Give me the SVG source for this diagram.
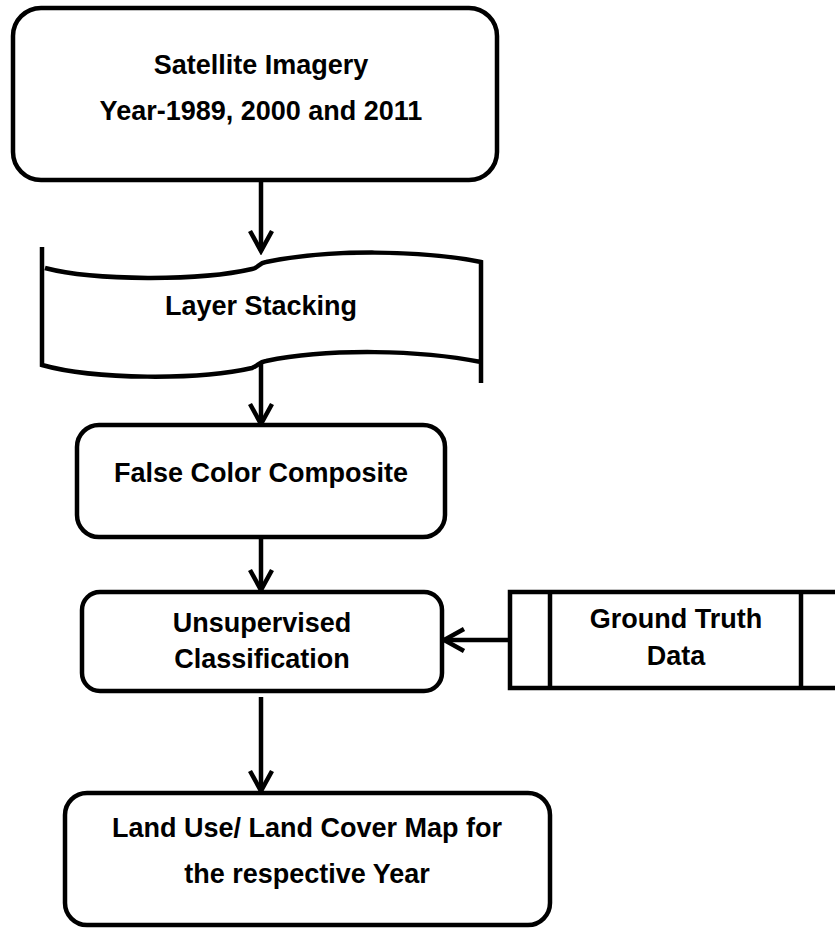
<svg xmlns="http://www.w3.org/2000/svg" width="835" height="928" viewBox="0 0 835 928">
  <style>
    .box { fill: #fff; stroke: #000; stroke-width: 4.5; }
    .edge { fill: none; stroke: #000; stroke-width: 4.5; }
    .lbl { font-family: "Liberation Sans", Arial, sans-serif; font-weight: bold; font-size: 27px; fill: #000; text-anchor: middle; }
  </style>
  <defs>
    <marker id="arrow" markerUnits="userSpaceOnUse" viewBox="-26 -16 30 32" markerWidth="30" markerHeight="32" refX="0" refY="0" orient="auto">
      <path d="M-20,-11 L0,0 L-20,11" fill="none" stroke="#000" stroke-width="4.5" stroke-linejoin="miter"/>
    </marker>
  </defs>
  <rect width="835" height="928" fill="#fff"/>

  <g id="connectors">
    <line class="edge" x1="261" y1="180" x2="261" y2="251" marker-end="url(#arrow)"/>
    <line class="edge" x1="261" y1="364" x2="261" y2="424" marker-end="url(#arrow)"/>
    <line class="edge" x1="261" y1="537" x2="261" y2="590" marker-end="url(#arrow)"/>
    <line class="edge" x1="510" y1="640" x2="444" y2="640" marker-end="url(#arrow)"/>
    <line class="edge" x1="261" y1="697" x2="261" y2="791" marker-end="url(#arrow)"/>
  </g>

  <g id="satellite-imagery">
    <rect class="box" x="13" y="8" width="484" height="172" rx="28" ry="28"/>
    <text class="lbl" x="261" y="74">Satellite Imagery</text>
    <text class="lbl" x="261" y="120">Year-1989, 2000 and 2011</text>
  </g>

  <g id="layer-stacking">
    <path fill="#fff" stroke="none" d="M42,247 L42,365 C95,380 200,380 252,368 C258,366 259,362 266,361 C330,348 420,350 481,362 L481,262 C420,250 330,249 266,262 C259,263 258,268 252,269 C200,281 95,281 45,268 Z"/>
    <path class="edge" d="M42,247 L42,365 C95,380 200,380 252,368 C258,366 259,362 266,361 C330,348 420,350 481,362 M481,383 L481,262 C420,250 330,249 266,262 C259,263 258,268 252,269 C200,281 95,281 45,268"/>
    <text class="lbl" x="261" y="315">Layer Stacking</text>
  </g>

  <g id="false-color-composite">
    <rect class="box" x="77" y="425" width="368" height="112" rx="22" ry="22"/>
    <text class="lbl" x="261" y="482">False Color Composite</text>
  </g>

  <g id="unsupervised-classification">
    <rect class="box" x="82" y="592" width="360" height="99" rx="18" ry="18"/>
    <text class="lbl" x="262" y="632">Unsupervised</text>
    <text class="lbl" x="262" y="668">Classification</text>
  </g>

  <g id="ground-truth-data">
    <rect class="box" x="510" y="592" width="330" height="96"/>
    <line class="edge" x1="550" y1="592" x2="550" y2="688"/>
    <line class="edge" x1="801" y1="592" x2="801" y2="688"/>
    <text class="lbl" x="676" y="628">Ground Truth</text>
    <text class="lbl" x="676" y="665">Data</text>
  </g>

  <g id="lulc-map">
    <rect class="box" x="65" y="793" width="485" height="132" rx="22" ry="22"/>
    <text class="lbl" x="307" y="837">Land Use/ Land Cover Map for</text>
    <text class="lbl" x="307" y="883">the respective Year</text>
  </g>
</svg>
